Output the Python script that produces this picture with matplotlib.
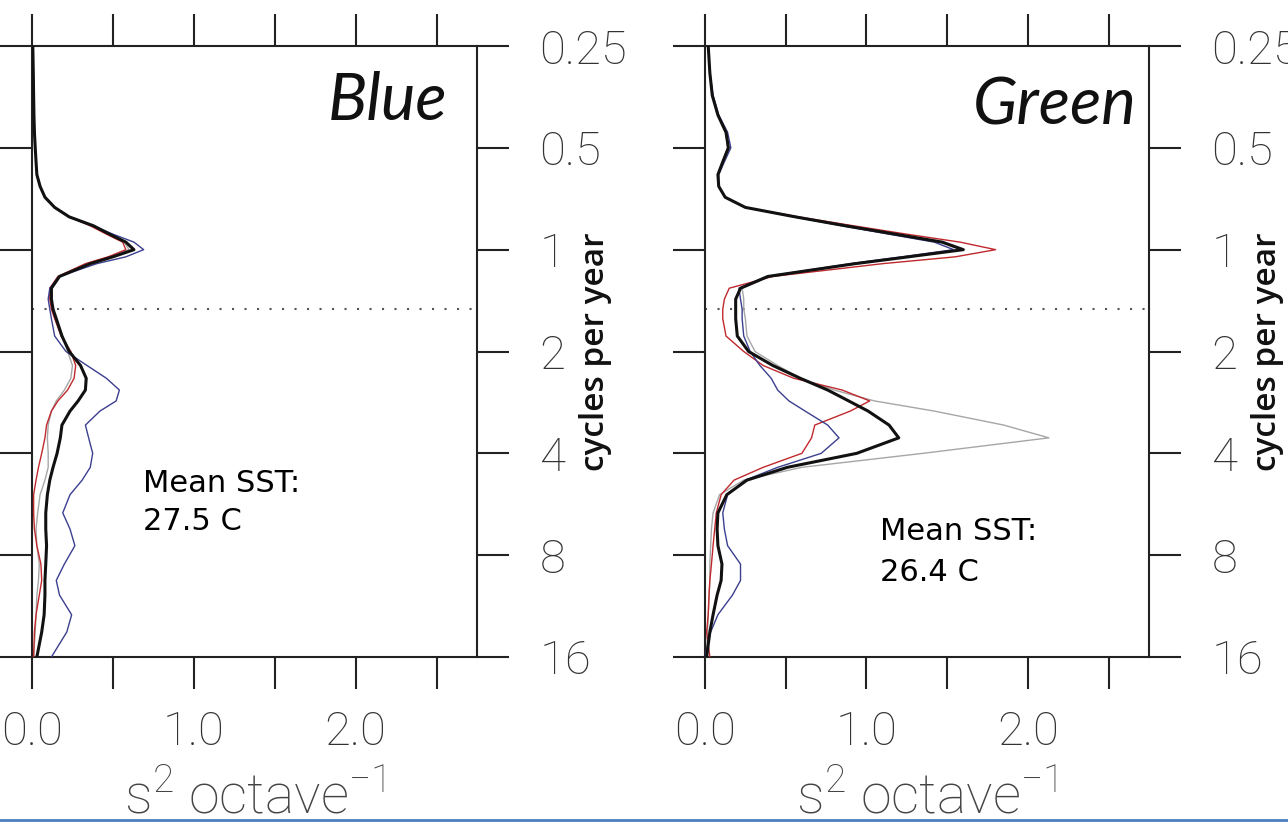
import matplotlib
matplotlib.use("Agg")
import matplotlib.pyplot as plt
from matplotlib.lines import Line2D
from matplotlib.ticker import FixedLocator, NullLocator, FixedFormatter

# frequency (cycles per year) at which the spectra were read
freq = [0.25, 0.3, 0.35, 0.4, 0.45, 0.5, 0.55, 0.6, 0.65, 0.7, 0.75, 0.8, 0.85, 0.9, 0.95,
        1.0, 1.05, 1.1, 1.2, 1.3, 1.4, 1.5, 1.6, 1.8, 2.0, 2.2, 2.4, 2.6, 2.8, 3.0, 3.3,
        3.6, 4.0, 4.4, 4.8, 5.3, 6.0, 6.7, 7.5, 8.5, 9.5, 10.5, 12, 13.5, 16]

# variance per octave, "Blue" panel
blue_black = [0.005, 0.008, 0.01, 0.012, 0.015, 0.02, 0.025, 0.03, 0.05, 0.08, 0.14, 0.23, 0.38,
              0.48, 0.58, 0.63, 0.50, 0.36, 0.17, 0.12, 0.12, 0.13, 0.15, 0.185, 0.23, 0.30,
              0.335, 0.33, 0.285, 0.235, 0.185, 0.175, 0.155, 0.13, 0.11, 0.095, 0.085, 0.085,
              0.09, 0.085, 0.08, 0.08, 0.075, 0.06, 0.03]
blue_blue = [0.005, 0.008, 0.01, 0.012, 0.015, 0.02, 0.025, 0.03, 0.05, 0.08, 0.14, 0.23, 0.38,
             0.50, 0.63, 0.69, 0.58, 0.40, 0.17, 0.11, 0.10, 0.11, 0.12, 0.14, 0.21, 0.34, 0.46,
             0.54, 0.52, 0.42, 0.33, 0.35, 0.375, 0.36, 0.31, 0.235, 0.19, 0.235, 0.265, 0.2,
             0.15, 0.17, 0.245, 0.215, 0.12]
blue_red = [0.005, 0.008, 0.01, 0.012, 0.015, 0.02, 0.025, 0.03, 0.05, 0.08, 0.14, 0.23, 0.36,
            0.46, 0.56, 0.58, 0.47, 0.33, 0.16, 0.11, 0.11, 0.12, 0.14, 0.18, 0.24, 0.27, 0.26,
            0.22, 0.16, 0.12, 0.09, 0.08, 0.06, 0.04, 0.025, 0.01, 0.01, 0.015, 0.03, 0.055,
            0.06, 0.045, 0.025, 0.015, 0.01]
blue_gray = [0.005, 0.008, 0.01, 0.012, 0.015, 0.02, 0.025, 0.03, 0.05, 0.08, 0.14, 0.23, 0.37,
             0.47, 0.57, 0.60, 0.48, 0.34, 0.17, 0.12, 0.12, 0.13, 0.15, 0.19, 0.22, 0.25, 0.24,
             0.2, 0.15, 0.12, 0.10, 0.095, 0.1, 0.1, 0.08, 0.05, 0.035, 0.025, 0.03, 0.045,
             0.04, 0.03, 0.025, 0.02, 0.01]

# variance per octave, "Green" panel
green_black = [0.02, 0.03, 0.045, 0.08, 0.13, 0.145, 0.11, 0.08, 0.085, 0.125, 0.25, 0.56, 0.87,
               1.18, 1.47, 1.6, 1.26, 0.93, 0.39, 0.22, 0.19, 0.19, 0.19, 0.2, 0.27, 0.42, 0.59,
               0.76, 0.89, 1.01, 1.14, 1.2, 0.94, 0.51, 0.26, 0.135, 0.08, 0.075, 0.08, 0.105,
               0.1, 0.075, 0.05, 0.03, 0.01]
green_blue = [0.02, 0.03, 0.05, 0.085, 0.14, 0.16, 0.12, 0.085, 0.085, 0.125, 0.25, 0.55, 0.85,
              1.14, 1.42, 1.54, 1.22, 0.9, 0.38, 0.21, 0.22, 0.23, 0.23, 0.24, 0.28, 0.34, 0.41,
              0.45, 0.52, 0.62, 0.76, 0.83, 0.72, 0.45, 0.25, 0.14, 0.11, 0.12, 0.14, 0.22, 0.22,
              0.17, 0.08, 0.035, 0.0]
green_red = [0.02, 0.03, 0.045, 0.08, 0.13, 0.14, 0.11, 0.08, 0.085, 0.125, 0.25, 0.58, 0.92,
             1.25, 1.58, 1.80, 1.55, 1.1, 0.42, 0.15, 0.12, 0.11, 0.11, 0.13, 0.24, 0.36, 0.55,
             0.85, 1.02, 0.9, 0.68, 0.66, 0.6, 0.36, 0.18, 0.1, 0.07, 0.06, 0.05, 0.04, 0.03,
             0.025, 0.02, 0.01, 0.03]
green_gray = [0.02, 0.03, 0.045, 0.08, 0.13, 0.145, 0.11, 0.08, 0.085, 0.125, 0.25, 0.56, 0.87,
              1.17, 1.45, 1.58, 1.25, 0.93, 0.40, 0.23, 0.24, 0.24, 0.25, 0.26, 0.31, 0.45, 0.59,
              0.8, 1.05, 1.42, 1.85, 2.13, 1.35, 0.6, 0.24, 0.09, 0.05, 0.04, 0.035, 0.03, 0.03,
              0.025, 0.02, 0.015, 0.01]

yticks = [0.25, 0.5, 1, 2, 4, 8, 16]
ytick_labels = ["0.25", "0.5", "1", "2", "4", "8", "16"]
xticks = [0.0, 0.5, 1.0, 1.5, 2.0, 2.5]
xtick_labels = ["0.0", "", "1.0", "", "2.0", ""]
cutoff = 1.5

panels = [
    ("Blue", "Mean SST:", "27.5 C", blue_black, blue_blue, blue_red, blue_gray),
    ("Green", "Mean SST:", "26.4 C", green_black, green_blue, green_red, green_gray),
]

plt.rcParams['font.family'] = ['Liberation Sans', 'DejaVu Sans']
plt.rcParams['mathtext.fontset'] = 'custom'
plt.rcParams['mathtext.rm'] = 'Roboto:light'
plt.rcParams['mathtext.default'] = 'rm'

fig = plt.figure(figsize=(12.88, 8.23), dpi=100)
fig.patch.set_facecolor('white')

# axes boxes in figure pixels: (left, width)
boxes = [(32, 445), (705, 444)]
name_pos = [(0.933, 0.879), (0.973, 0.871)]
sst_pos = [(0.249, 0.270, 0.208), (0.394, 0.1915, 0.124)]

for i, (name, l1, l2, blk, blu, red, gry) in enumerate(panels):
    left, width = boxes[i]
    ax = fig.add_axes([left / 1288, 1 - 657 / 823, width / 1288, 611 / 823])
    ax.set_xlim(0, 2.75)
    ax.set_yscale('log', base=2)
    ax.set_ylim(16, 0.25)

    ax.plot(gry, freq, color='#a6a6a6', lw=1.0, zorder=2)
    ax.plot(red, freq, color='#c0282d', lw=1.0, zorder=3)
    ax.plot(blu, freq, color='#3b3f8f', lw=1.0, zorder=3)
    ax.plot(blk, freq, color='#111111', lw=2.2, zorder=4)
    ax.axhline(cutoff, color='#555555', lw=1.5, ls=(0, (1, 5)), zorder=1)

    ax.yaxis.set_major_locator(FixedLocator(yticks))
    ax.yaxis.set_major_formatter(FixedFormatter(ytick_labels))
    ax.yaxis.set_minor_locator(NullLocator())
    ax.xaxis.set_major_locator(FixedLocator(xticks))
    ax.xaxis.set_major_formatter(FixedFormatter(xtick_labels))
    ax.xaxis.set_minor_locator(NullLocator())

    ax.tick_params(axis='both', which='major', direction='out', length=23, width=1.5,
                   color='#222222', top=True, bottom=True, left=True, right=True,
                   labeltop=False, labelleft=False, labelright=True, labelbottom=True,
                   labelsize=34, labelcolor='#333333')
    ax.tick_params(axis='y', pad=22)
    ax.tick_params(axis='x', pad=15)
    for lab in ax.get_xticklabels() + ax.get_yticklabels():
        lab.set_fontfamily('Roboto')
        lab.set_fontweight('light')
    for sp in ax.spines.values():
        sp.set_linewidth(1.5)
        sp.set_color('#222222')

    ax.text(name_pos[i][0], name_pos[i][1], name, transform=ax.transAxes, ha='right',
            va='baseline', fontsize=47, style='italic', family='Lato', color='#111111')
    sx, sy1, sy2 = sst_pos[i]
    ax.text(sx, sy1, l1, transform=ax.transAxes, ha='left', va='baseline',
            fontsize=22, family='DejaVu Sans', color='black')
    ax.text(sx, sy2, l2, transform=ax.transAxes, ha='left', va='baseline',
            fontsize=22, family='DejaVu Sans', color='black')

    ax.text(0.5, -0.255, r's$^2$ octave$^{-1}$', transform=ax.transAxes, ha='center',
            va='baseline', fontsize=40, color='#444444', family='Roboto', fontweight='light')
    ax.text(1 + 118 / width, 0.5, 'cycles per year', transform=ax.transAxes, rotation=90,
            ha='center', va='center', fontsize=24, family='Open Sans', fontweight='semibold',
            color='#111111')

fig.add_artist(Line2D([0, 1], [0.004, 0.004], transform=fig.transFigure,
                      color='#4f7fbf', lw=2))

fig.savefig('out.png', dpi=100, facecolor='white')
